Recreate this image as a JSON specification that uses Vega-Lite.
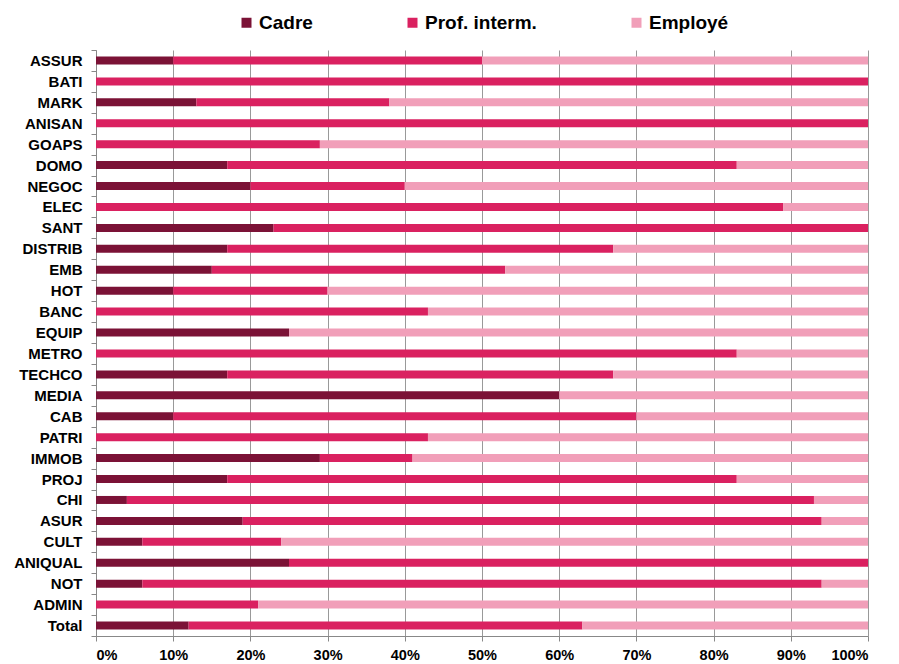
{
  "$schema": "https://vega.github.io/schema/vega-lite/v6.json",
  "autosize": {"type": "none"},
  "padding": {"left": 96, "top": 50, "right": 31, "bottom": 28},
  "width": 772,
  "height": 586,
  "background": "white",
  "config": {
    "view": {"stroke": null},
    "font": "Liberation Sans"
  },
  "data": {
    "values": [
      {"s": "ASSUR", "c": "Cadre", "v": 10}, {"s": "ASSUR", "c": "Prof. interm.", "v": 40}, {"s": "ASSUR", "c": "Employé", "v": 50},
      {"s": "BATI", "c": "Cadre", "v": 0}, {"s": "BATI", "c": "Prof. interm.", "v": 100}, {"s": "BATI", "c": "Employé", "v": 0},
      {"s": "MARK", "c": "Cadre", "v": 13}, {"s": "MARK", "c": "Prof. interm.", "v": 25}, {"s": "MARK", "c": "Employé", "v": 62},
      {"s": "ANISAN", "c": "Cadre", "v": 0}, {"s": "ANISAN", "c": "Prof. interm.", "v": 100}, {"s": "ANISAN", "c": "Employé", "v": 0},
      {"s": "GOAPS", "c": "Cadre", "v": 0}, {"s": "GOAPS", "c": "Prof. interm.", "v": 29}, {"s": "GOAPS", "c": "Employé", "v": 71},
      {"s": "DOMO", "c": "Cadre", "v": 17}, {"s": "DOMO", "c": "Prof. interm.", "v": 66}, {"s": "DOMO", "c": "Employé", "v": 17},
      {"s": "NEGOC", "c": "Cadre", "v": 20}, {"s": "NEGOC", "c": "Prof. interm.", "v": 20}, {"s": "NEGOC", "c": "Employé", "v": 60},
      {"s": "ELEC", "c": "Cadre", "v": 0}, {"s": "ELEC", "c": "Prof. interm.", "v": 89}, {"s": "ELEC", "c": "Employé", "v": 11},
      {"s": "SANT", "c": "Cadre", "v": 23}, {"s": "SANT", "c": "Prof. interm.", "v": 77}, {"s": "SANT", "c": "Employé", "v": 0},
      {"s": "DISTRIB", "c": "Cadre", "v": 17}, {"s": "DISTRIB", "c": "Prof. interm.", "v": 50}, {"s": "DISTRIB", "c": "Employé", "v": 33},
      {"s": "EMB", "c": "Cadre", "v": 15}, {"s": "EMB", "c": "Prof. interm.", "v": 38}, {"s": "EMB", "c": "Employé", "v": 47},
      {"s": "HOT", "c": "Cadre", "v": 10}, {"s": "HOT", "c": "Prof. interm.", "v": 20}, {"s": "HOT", "c": "Employé", "v": 70},
      {"s": "BANC", "c": "Cadre", "v": 0}, {"s": "BANC", "c": "Prof. interm.", "v": 43}, {"s": "BANC", "c": "Employé", "v": 57},
      {"s": "EQUIP", "c": "Cadre", "v": 25}, {"s": "EQUIP", "c": "Prof. interm.", "v": 0}, {"s": "EQUIP", "c": "Employé", "v": 75},
      {"s": "METRO", "c": "Cadre", "v": 0}, {"s": "METRO", "c": "Prof. interm.", "v": 83}, {"s": "METRO", "c": "Employé", "v": 17},
      {"s": "TECHCO", "c": "Cadre", "v": 17}, {"s": "TECHCO", "c": "Prof. interm.", "v": 50}, {"s": "TECHCO", "c": "Employé", "v": 33},
      {"s": "MEDIA", "c": "Cadre", "v": 60}, {"s": "MEDIA", "c": "Prof. interm.", "v": 0}, {"s": "MEDIA", "c": "Employé", "v": 40},
      {"s": "CAB", "c": "Cadre", "v": 10}, {"s": "CAB", "c": "Prof. interm.", "v": 60}, {"s": "CAB", "c": "Employé", "v": 30},
      {"s": "PATRI", "c": "Cadre", "v": 0}, {"s": "PATRI", "c": "Prof. interm.", "v": 43}, {"s": "PATRI", "c": "Employé", "v": 57},
      {"s": "IMMOB", "c": "Cadre", "v": 29}, {"s": "IMMOB", "c": "Prof. interm.", "v": 12}, {"s": "IMMOB", "c": "Employé", "v": 59},
      {"s": "PROJ", "c": "Cadre", "v": 17}, {"s": "PROJ", "c": "Prof. interm.", "v": 66}, {"s": "PROJ", "c": "Employé", "v": 17},
      {"s": "CHI", "c": "Cadre", "v": 4}, {"s": "CHI", "c": "Prof. interm.", "v": 89}, {"s": "CHI", "c": "Employé", "v": 7},
      {"s": "ASUR", "c": "Cadre", "v": 19}, {"s": "ASUR", "c": "Prof. interm.", "v": 75}, {"s": "ASUR", "c": "Employé", "v": 6},
      {"s": "CULT", "c": "Cadre", "v": 6}, {"s": "CULT", "c": "Prof. interm.", "v": 18}, {"s": "CULT", "c": "Employé", "v": 76},
      {"s": "ANIQUAL", "c": "Cadre", "v": 25}, {"s": "ANIQUAL", "c": "Prof. interm.", "v": 75}, {"s": "ANIQUAL", "c": "Employé", "v": 0},
      {"s": "NOT", "c": "Cadre", "v": 6}, {"s": "NOT", "c": "Prof. interm.", "v": 88}, {"s": "NOT", "c": "Employé", "v": 6},
      {"s": "ADMIN", "c": "Cadre", "v": 0}, {"s": "ADMIN", "c": "Prof. interm.", "v": 21}, {"s": "ADMIN", "c": "Employé", "v": 79},
      {"s": "Total", "c": "Cadre", "v": 12}, {"s": "Total", "c": "Prof. interm.", "v": 51}, {"s": "Total", "c": "Employé", "v": 37}
    ]
  },
  "transform": [
    {"window": [{"op": "row_number", "as": "k"}], "groupby": ["s"]}
  ],
  "mark": {"type": "bar", "size": 8},
  "encoding": {
    "y": {
      "field": "s",
      "type": "nominal",
      "sort": null,
      "scale": {"paddingInner": 0, "paddingOuter": 0},
      "axis": {
        "title": null,
        "tickBand": "extent",
        "tickSize": 5,
        "tickColor": "#888888",
        "domainColor": "#888888",
        "labelFont": "Liberation Sans",
        "labelFontWeight": "bold",
        "labelFontSize": 15,
        "labelColor": "#000000",
        "labelPadding": 9,
        "grid": false
      }
    },
    "x": {
      "field": "v",
      "type": "quantitative",
      "stack": "normalize",
      "scale": {"domain": [0, 1]},
      "axis": {
        "title": null,
        "values": [0, 0.1, 0.2, 0.3, 0.4, 0.5, 0.6, 0.7, 0.8, 0.9, 1],
        "format": ".0%",
        "grid": true,
        "gridColor": "#999999",
        "gridWidth": 1,
        "tickSize": 5,
        "tickColor": "#888888",
        "domainColor": "#888888",
        "labelFont": "Liberation Sans",
        "labelFontWeight": "bold",
        "labelFontSize": 14.5,
        "labelColor": "#000000",
        "labelPadding": 7
      }
    },
    "color": {
      "field": "c",
      "type": "nominal",
      "sort": ["Cadre", "Prof. interm.", "Employé"],
      "scale": {
        "domain": ["Cadre", "Prof. interm.", "Employé"],
        "range": ["#7B1236", "#DA2160", "#F19FB9"]
      },
      "legend": {
        "title": null,
        "orient": "none",
        "legendX": 141,
        "legendY": -37,
        "direction": "horizontal",
        "columns": 3,
        "columnPadding": 90,
        "padding": 0,
        "symbolType": "square",
        "symbolSize": 100,
        "symbolStrokeWidth": 0,
        "labelFont": "Liberation Sans",
        "labelFontWeight": "bold",
        "labelFontSize": 19,
        "labelColor": "#000000",
        "labelOffset": 3
      }
    },
    "order": {"field": "k", "type": "quantitative", "sort": "ascending"}
  }
}
